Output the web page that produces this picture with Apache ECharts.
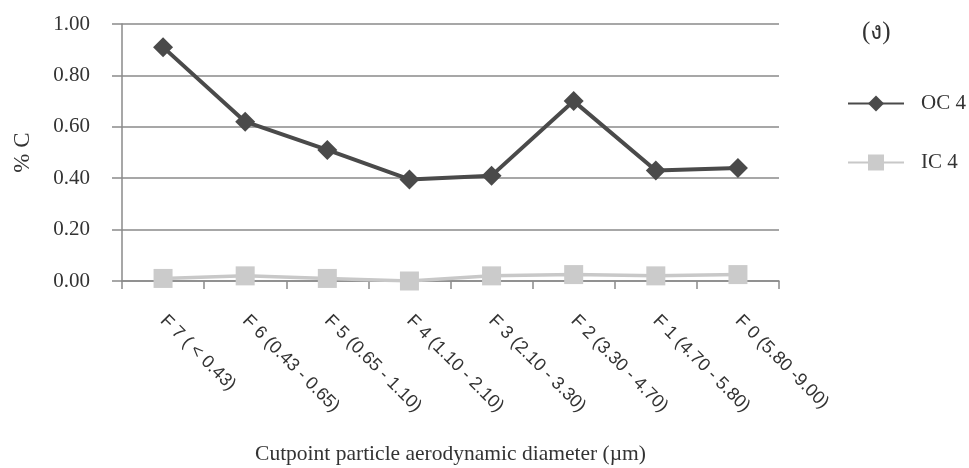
<!DOCTYPE html>
<html>
<head>
<meta charset="utf-8">
<script src="https://cdn.jsdelivr.net/npm/echarts@6/dist/echarts.min.js"></script>
<style>
  html, body { margin: 0; padding: 0; background: #fff; }
  #chart { width: 969px; height: 468px; }
</style>
</head>
<body>
<div id="chart"></div>
<script>
// categories and values
var categories = ['F 7 ( < 0.43)', 'F 6 (0.43 - 0.65)', 'F 5 (0.65 - 1.10)', 'F 4 (1.10 - 2.10)',
    'F 3 (2.10 - 3.30)', 'F 2 (3.30 - 4.70)', 'F 1 (4.70 - 5.80)', 'F 0 (5.80 -9.00)'];
var oc4 = [0.91, 0.62, 0.51, 0.395, 0.41, 0.70, 0.43, 0.44];
var ic4 = [0.01, 0.02, 0.01, 0.00, 0.02, 0.025, 0.02, 0.025];

var serif = '"Liberation Serif", "Times New Roman", serif';
var myChart = echarts.init(document.getElementById('chart'));

var option = {
    animation: false,
    backgroundColor: '#fff',
    title: {
        text: '(ง)',
        left: 857,
        top: 15,
        textStyle: { fontFamily: serif, fontSize: 25, fontWeight: 'normal', color: '#333' }
    },
    legend: {
        orient: 'vertical',
        left: 842,
        top: 88,
        itemWidth: 56,
        itemHeight: 20,
        itemGap: 38,
        textStyle: { fontFamily: serif, fontSize: 21, color: '#333', padding: [0, 0, 0, 12] },
        data: ['OC 4', 'IC 4']
    },
    // keep the plot box fixed (no auto shrinking for labels)
    grid: { left: 122, right: 190, top: 24, bottom: 187, outerBoundsMode: 'none', containLabel: false },
    xAxis: {
        type: 'category',
        data: categories,
        boundaryGap: true,
        name: 'Cutpoint particle aerodynamic diameter (\u00b5m)',
        nameLocation: 'middle',
        nameGap: 162,
        nameTextStyle: { fontFamily: serif, fontSize: 21.5, color: '#333' },
        axisLine: { lineStyle: { color: '#8a8a8a', width: 1.5 } },
        axisTick: { show: true, length: 8, lineStyle: { color: '#8a8a8a', width: 1.5 } },
        axisLabel: {
            rotate: -45,
            margin: 37,
            interval: 0,
            fontFamily: '"Liberation Sans", Arial, sans-serif',
            fontSize: 18,
            color: '#333'
        }
    },
    yAxis: {
        type: 'value',
        min: 0,
        max: 1,
        interval: 0.2,
        name: '% C',
        nameLocation: 'middle',
        nameGap: 88,
        nameRotate: 90,
        nameTextStyle: { fontFamily: serif, fontSize: 23, color: '#333' },
        axisLine: { show: true, lineStyle: { color: '#8a8a8a', width: 1.5 } },
        axisTick: { show: true, length: 10, lineStyle: { color: '#8a8a8a', width: 1.5 } },
        splitLine: { lineStyle: { color: '#8a8a8a', width: 1.5 } },
        axisLabel: {
            margin: 32,
            fontFamily: serif,
            fontSize: 21,
            color: '#333',
            formatter: function (v) { return v.toFixed(2); }
        }
    },
    series: [
        {
            name: 'OC 4',
            type: 'line',
            data: oc4,
            symbol: 'diamond',
            symbolSize: 20,
            lineStyle: { color: '#4a4a4a', width: 4 },
            itemStyle: { color: '#4a4a4a' },
            z: 3
        },
        {
            name: 'IC 4',
            type: 'line',
            data: ic4,
            symbol: 'rect',
            symbolSize: 19,
            lineStyle: { color: '#c8c8c8', width: 3.5 },
            itemStyle: { color: '#cbcbcb' },
            z: 2
        }
    ]
};

myChart.setOption(option);
</script>
</body>
</html>
